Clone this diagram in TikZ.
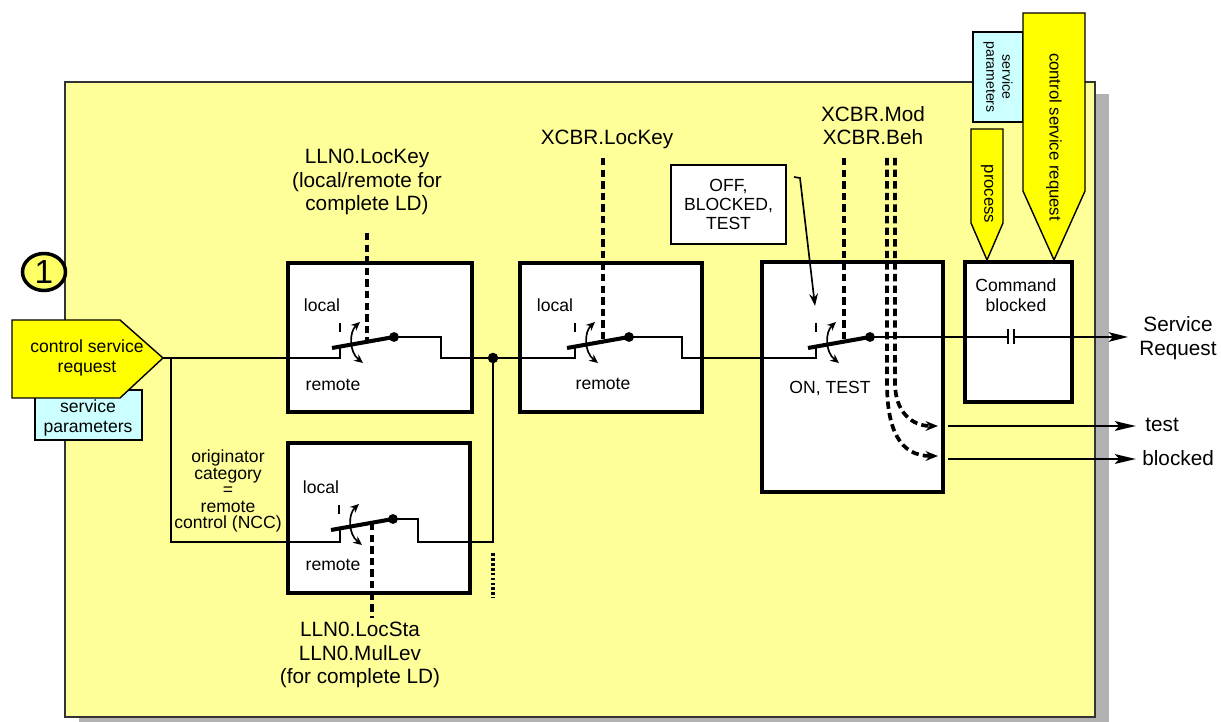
\documentclass[tikz,border=0pt]{standalone}
\usepackage{fontspec}
\setmainfont{Liberation Sans}
\usetikzlibrary{calc, arrows.meta, shapes.geometric}
\definecolor{panelyellow}{RGB}{255,255,153}
\definecolor{flagyellow}{RGB}{255,255,0}
\definecolor{ballyellow}{RGB}{255,255,102}
\definecolor{parmcyan}{RGB}{204,255,255}
\definecolor{shadowgray}{RGB}{178,178,178}

\begin{document}
\begin{tikzpicture}[x=0.02cm, y=-0.02cm,
  panel/.style={fill=panelyellow, draw=black!80, line width=0.7pt},
  swbox/.style={draw, fill=white, line width=2.2pt, inner sep=0pt},
  wire/.style={line width=0.95pt},
  blade/.style={line width=2.3pt},
  ctrl/.style={line width=2.1pt, dash pattern=on 4.2pt off 2.4pt},
  outline/.style={line width=1.6pt, -{Stealth[length=12pt, width=5.5pt, inset=2.5pt]}},
  tag/.style={font=\fontsize{11.8}{13.3}\selectfont, align=center, inner sep=0pt},
  txt/.style={font=\fontsize{10}{11.3}\selectfont, align=center, inner sep=0pt},
  flag/.style={fill=flagyellow, draw, line width=0.8pt},
  parm/.style={fill=parmcyan, draw, line width=0.7pt},
  pics/lever/.style={code={
    \draw[blade] (-62,11) -- (0,0);
    \fill (0,0) circle (2.8pt);
    \draw[wire] (-54,-14) -- (-54,-5);
    \draw[wire, {Stealth[length=5pt, width=4.5pt]}-{Stealth[length=5pt, width=4.5pt]}]
      (-34,-15) .. controls (-45,-5) and (-45,15) .. (-31,26);
  }}]

  \useasboundingbox (0,0) rectangle (1221,722);
  \fill[shadowgray] (79,94) rectangle (1109,722);
  \draw[panel] (65,82) rectangle (1095,717);

  \node[ellipse, draw, fill=ballyellow, line width=2pt, minimum width=0.86cm, minimum height=0.74cm,
    inner sep=0pt, font=\fontsize{19}{20}\selectfont] (one) at (44,272) {1};

  \draw[parm] (35,390) rectangle (142,440);
  \node[txt] (parmL) at (88,418) {service\\parameters};
  \coordinate (inTip) at (163,358);
  \draw[flag] (12,320) -- (120,320) -- (inTip) -- (120,398) -- (12,398) -- cycle;
  \node[txt] (csrL) at (87,358) {control service\\request};

  \draw[parm] (973,32) rectangle (1023,122);
  \node[txt, rotate=-90, font=\fontsize{8}{9}\selectfont] (parmT) at (998,77) {service\\parameters};
  \coordinate (procTip) at (987,260);
  \draw[flag] (971,129) -- (1003,129) -- (1003,223) -- (procTip) -- (971,223) -- cycle;
  \node[txt, rotate=-90, font=\fontsize{9.5}{11}\selectfont] (proc) at (987,194) {process};
  \coordinate (csrTip) at (1054,260);
  \draw[flag] (1023,13) -- (1085,13) -- (1085,191) -- (csrTip) -- (1023,191) -- cycle;
  \node[txt, rotate=-90, font=\fontsize{9.5}{11}\selectfont] (csrT) at (1054,137) {control service request};

  \node[swbox, minimum width=3.68cm, minimum height=2.98cm] (keyLD) at (380,337.5) {};
  \node[swbox, minimum width=3.64cm, minimum height=2.98cm] (keyXC) at (611,337.5) {};
  \node[swbox, minimum width=3.62cm, minimum height=4.60cm] (modeXC) at (852.5,377) {};
  \node[swbox, minimum width=2.14cm, minimum height=2.80cm] (cmdBlk) at (1018.5,332) {};
  \node[swbox, minimum width=3.64cm, minimum height=3.00cm] (staLD) at (379,518) {};

  \node[draw, fill=white, line width=0.8pt, minimum width=2.3cm, minimum height=1.58cm,
    txt, font=\fontsize{10}{11}\selectfont] (offBox) at (728.5,204.5) {OFF,\\BLOCKED,\\TEST};

  \coordinate (split) at (171,358);
  \coordinate (join) at (493,358);
  \coordinate (pivA) at (394,337);
  \coordinate (pivB) at (629,337);
  \coordinate (pivC) at (870,337);
  \coordinate (pivD) at (393,519);
  \coordinate (srq) at (1128,337);

  \draw[wire] (inTip) -- ($(pivA)+(-54,21)$) -- ++(0,-11);
  \draw[wire] (pivA) -- ++(47,0) |- (join) -- ($(pivB)+(-54,21)$) -- ++(0,-11);
  \draw[wire] (pivB) -- ++(53,0) |- ($(pivC)+(-54,21)$) -- ++(0,-11);
  \draw[wire] (split) |- ($(pivD)+(-53,23)$) -- ++(0,-12);
  \draw[wire] (pivD) -- ++(25,0) -- ++(0,23) -| (join);
  \fill (join) circle (3pt);
  \draw[line width=2pt, dash pattern=on 1.6pt off 1.2pt] (493,553) -- (493,598);

  \draw[wire] (pivC) -- (1008,337);
  \draw[wire] (1008,329) -- (1008,344);
  \draw[wire] (1014,329) -- (1014,344);
  \draw[wire, -{Stealth[length=11pt, width=5.5pt, inset=2.5pt]}] (1014,337) -- (srq);
  \node[tag, align=center] (srqL) at (1178,338) {Service\\Request};

  \pic at (pivA) {lever};
  \pic at (pivB) {lever};
  \pic at (pivC) {lever};
  \pic at (pivD) {lever};

  \draw[ctrl] (367,233) -- (367,342);
  \draw[ctrl] (603,158) -- (603,342);
  \draw[ctrl] (844,158) -- (844,342);
  \draw[ctrl] (372,523) -- (372,618);
  \draw[ctrl, -{Stealth[length=7pt, width=5.5pt]}] (895,158) -- (895,383) .. controls (895,412) and (912,426) .. (938,426);
  \draw[ctrl, -{Stealth[length=7pt, width=5.5pt]}] (887,158) -- (887,383) .. controls (887,430) and (900,456) .. (938,456);

  \draw[wire, -{Stealth[length=7pt, width=5pt]}] (794,177) -- (800,178) -- (815,306);

  \draw[outline] (948,426) -- (1136,426);
  \draw[outline] (948,459) -- (1136,459);
  \node[tag, anchor=west] (tst) at (1145,425) {test};
  \node[tag, anchor=west] (blk) at (1142,458) {blocked};

  \node[tag] (lockLD) at (367,182) {LLN0.LocKey\\(local/remote for\\complete LD)};
  \node[tag] (lockXC) at (607,139) {XCBR.LocKey};
  \node[tag] (modXC) at (873,125.5) {XCBR.Mod\\XCBR.Beh};
  \node[tag] (locSta) at (360,655) {LLN0.LocSta\\LLN0.MulLev\\(for complete LD)};
  \node[txt, font=\fontsize{10}{9.4}\selectfont] (orig) at (228,491) {originator\\category\\=\\remote\\control (NCC)};

  \node[txt] (locA) at (322,305) {local};
  \node[txt] (remA) at (333,385) {remote};
  \node[txt] (locB) at (555,305) {local};
  \node[txt] (remB) at (603,384) {remote};
  \node[txt] (locD) at (321,487) {local};
  \node[txt] (remD) at (333,565) {remote};
  \node[txt] (onTst) at (830,388) {ON, TEST};
  \node[txt] (cmdL) at (1016,295) {Command\\blocked};

\end{tikzpicture}
\end{document}
